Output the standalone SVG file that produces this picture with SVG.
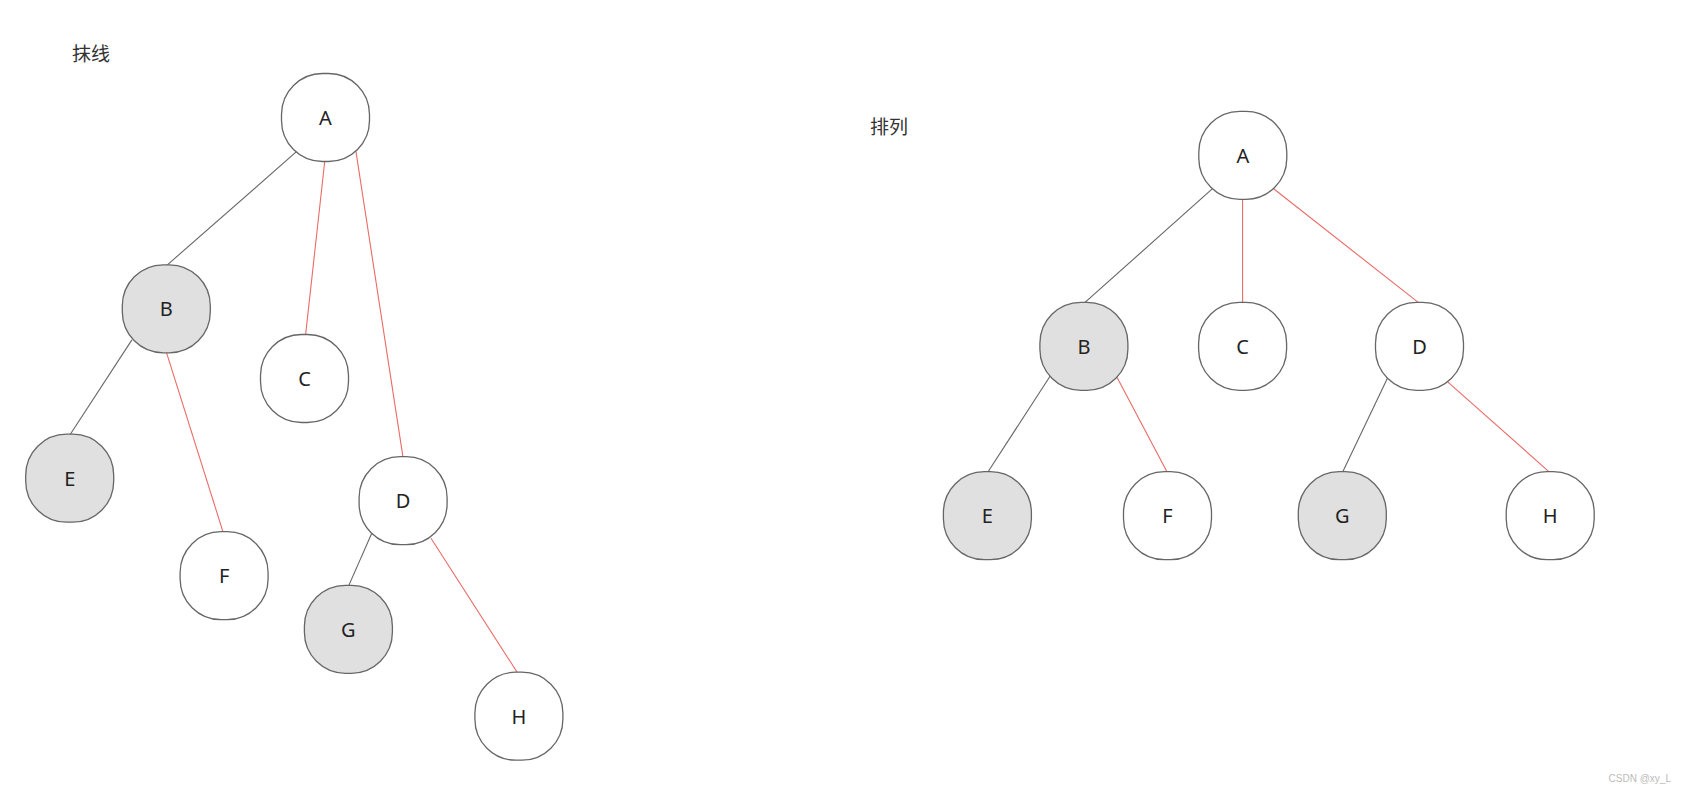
<svg xmlns="http://www.w3.org/2000/svg" width="1681" height="790" viewBox="0 0 1681 790">
<style>
.n rect{fill:#fff;stroke:#666;stroke-width:1.3}
.n.g rect{fill:#e0e0e0}
.n text{font-family:"Noto Sans","Noto Sans CJK SC",sans-serif;font-size:20px;fill:#222;text-anchor:middle;dominant-baseline:central}
.k{stroke:#666;stroke-width:1.1;fill:none}
.r{stroke:#ea6b66;stroke-width:1.1;fill:none}
.t{font-family:"Noto Sans CJK SC","Noto Sans",sans-serif;font-size:19px;fill:#333}
</style>
<rect width="1681" height="790" fill="#fff"/>
<g id="connectors">
<line class="k" x1="297" y1="151.2" x2="166.2" y2="265.9"/>
<line class="r" x1="324.8" y1="160.8" x2="305.5" y2="335.6"/>
<line class="r" x1="355.9" y1="151.2" x2="403.1" y2="457.8"/>
<line class="k" x1="131.9" y1="339.9" x2="69.7" y2="435.3"/>
<line class="r" x1="166.2" y1="351.6" x2="223" y2="531.8"/>
<line class="k" x1="372" y1="532.8" x2="348.4" y2="586.4"/>
<line class="r" x1="431" y1="538.2" x2="517.8" y2="673.3"/>
<line class="k" x1="1212.5" y1="188.7" x2="1083.9" y2="303.4"/>
<line class="r" x1="1242.6" y1="198.3" x2="1242.6" y2="303.4"/>
<line class="r" x1="1273.6" y1="188.7" x2="1419.5" y2="303.4"/>
<line class="k" x1="1050.7" y1="375.2" x2="987.4" y2="472.8"/>
<line class="r" x1="1117.1" y1="377.4" x2="1167.5" y2="472.8"/>
<line class="k" x1="1387.3" y1="378.5" x2="1342.3" y2="472.8"/>
<line class="r" x1="1447.4" y1="381.7" x2="1550.2" y2="472.8"/>
</g>
<g id="L-A" class="n"><rect x="281.5" y="73.5" width="88" height="88" rx="41"/><text x="325.5" y="117.5">A</text></g>
<g id="L-B" class="n g"><rect x="122.3" y="264.8" width="88" height="88" rx="41"/><text x="166.3" y="308.8">B</text></g>
<g id="L-C" class="n"><rect x="260.5" y="334.5" width="88" height="88" rx="41"/><text x="304.5" y="378.5">C</text></g>
<g id="L-E" class="n g"><rect x="25.7" y="434.2" width="88" height="88" rx="41"/><text x="69.7" y="478.2">E</text></g>
<g id="L-F" class="n"><rect x="180.1" y="531.7" width="88" height="88" rx="41"/><text x="224.1" y="575.7">F</text></g>
<g id="L-D" class="n"><rect x="359.1" y="456.7" width="88" height="88" rx="41"/><text x="403.1" y="500.7">D</text></g>
<g id="L-G" class="n g"><rect x="304.4" y="585.3" width="88" height="88" rx="41"/><text x="348.4" y="629.3">G</text></g>
<g id="L-H" class="n"><rect x="474.9" y="672.2" width="88" height="88" rx="41"/><text x="518.9" y="716.2">H</text></g>
<g id="R-A" class="n"><rect x="1198.8" y="111.3" width="88" height="88" rx="41"/><text x="1242.8" y="155.3">A</text></g>
<g id="R-B" class="n g"><rect x="1039.9" y="302.3" width="88" height="88" rx="41"/><text x="1083.9" y="346.3">B</text></g>
<g id="R-C" class="n"><rect x="1198.6" y="302.3" width="88" height="88" rx="41"/><text x="1242.6" y="346.3">C</text></g>
<g id="R-D" class="n"><rect x="1375.5" y="302.3" width="88" height="88" rx="41"/><text x="1419.5" y="346.3">D</text></g>
<g id="R-E" class="n g"><rect x="943.4" y="471.7" width="88" height="88" rx="41"/><text x="987.4" y="515.7">E</text></g>
<g id="R-F" class="n"><rect x="1123.5" y="471.7" width="88" height="88" rx="41"/><text x="1167.5" y="515.7">F</text></g>
<g id="R-G" class="n g"><rect x="1298.3" y="471.7" width="88" height="88" rx="41"/><text x="1342.3" y="515.7">G</text></g>
<g id="R-H" class="n"><rect x="1506.2" y="471.7" width="88" height="88" rx="41"/><text x="1550.2" y="515.7">H</text></g>
<text class="t" x="72" y="61">抹线</text>
<text class="t" x="870" y="134">排列</text>
<text x="1671" y="782" font-family="'Liberation Sans',sans-serif" font-size="10" fill="#bbb" text-anchor="end">CSDN @xy_L</text>
</svg>
